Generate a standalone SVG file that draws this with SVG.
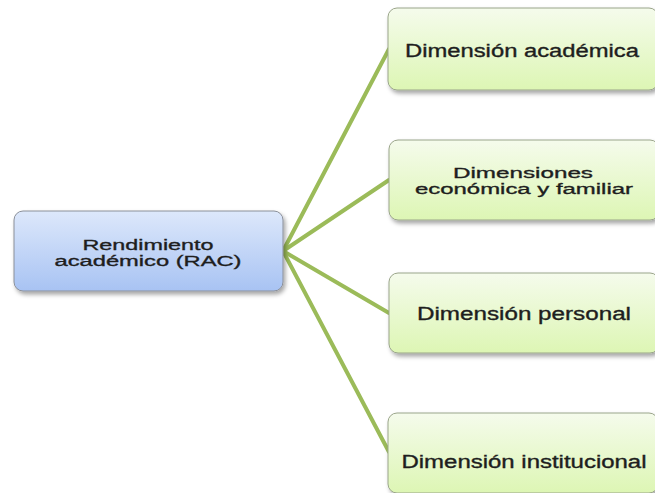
<svg xmlns="http://www.w3.org/2000/svg" width="655" height="493" viewBox="0 0 655 493">
<style>
text{font-family:"Liberation Sans",Arial,sans-serif;fill:#1e1e1e;stroke:#1e1e1e;stroke-width:0.35;text-anchor:middle}
.l{font-size:15.5px}
.r{font-size:18px}
.c{stroke:#9bbb59;stroke-width:4;fill:none;stroke-linecap:round}
.bl{fill:url(#gb);stroke:#8a8f99;stroke-width:1}
.bg{fill:url(#gg);stroke:#9aa58a;stroke-width:1}
</style>
<defs>
<linearGradient id="gb" x1="0" y1="0" x2="0" y2="1"><stop offset="0" stop-color="#dde8fb"/><stop offset="1" stop-color="#a8c3f3"/></linearGradient>
<linearGradient id="gg" x1="0" y1="0" x2="0" y2="1"><stop offset="0" stop-color="#f5fbec"/><stop offset="1" stop-color="#ddf6b4"/></linearGradient>
<filter id="sh" x="-10%" y="-10%" width="130%" height="140%"><feDropShadow dx="2" dy="3" stdDeviation="2" flood-color="#000" flood-opacity="0.35"/></filter>
</defs>
<g id="connectors">
<line class="c" x1="283" y1="251" x2="389" y2="49"/>
<line class="c" x1="283" y1="251" x2="389" y2="180"/>
<line class="c" x1="283" y1="251" x2="389" y2="313"/>
<line class="c" x1="283" y1="251" x2="389" y2="452"/>
</g>
<g id="rac">
<rect class="bl" x="14" y="211" width="269" height="80" rx="9" filter="url(#sh)"/>
<text class="l" x="148" y="250" textLength="131" lengthAdjust="spacingAndGlyphs">Rendimiento</text>
<text class="l" x="148" y="266" textLength="187" lengthAdjust="spacingAndGlyphs">académico (RAC)</text>
</g>
<g id="academica">
<rect class="bg" x="388" y="8" width="270" height="82" rx="9" filter="url(#sh)"/>
<text class="r" x="522" y="57" textLength="234" lengthAdjust="spacingAndGlyphs">Dimensión académica</text>
</g>
<g id="economica">
<rect class="bg" x="389" y="140" width="270" height="80" rx="9" filter="url(#sh)"/>
<text class="l" x="523" y="178" textLength="140" lengthAdjust="spacingAndGlyphs">Dimensiones</text>
<text class="l" x="524" y="194" textLength="218" lengthAdjust="spacingAndGlyphs">económica y familiar</text>
</g>
<g id="personal">
<rect class="bg" x="389" y="273" width="270" height="80" rx="9" filter="url(#sh)"/>
<text class="r" x="524" y="320" textLength="214" lengthAdjust="spacingAndGlyphs">Dimensión personal</text>
</g>
<g id="institucional">
<rect class="bg" x="388" y="413" width="270" height="80" rx="9" filter="url(#sh)"/>
<text class="r" x="524" y="468" textLength="245" lengthAdjust="spacingAndGlyphs">Dimensión institucional</text>
</g>
</svg>
